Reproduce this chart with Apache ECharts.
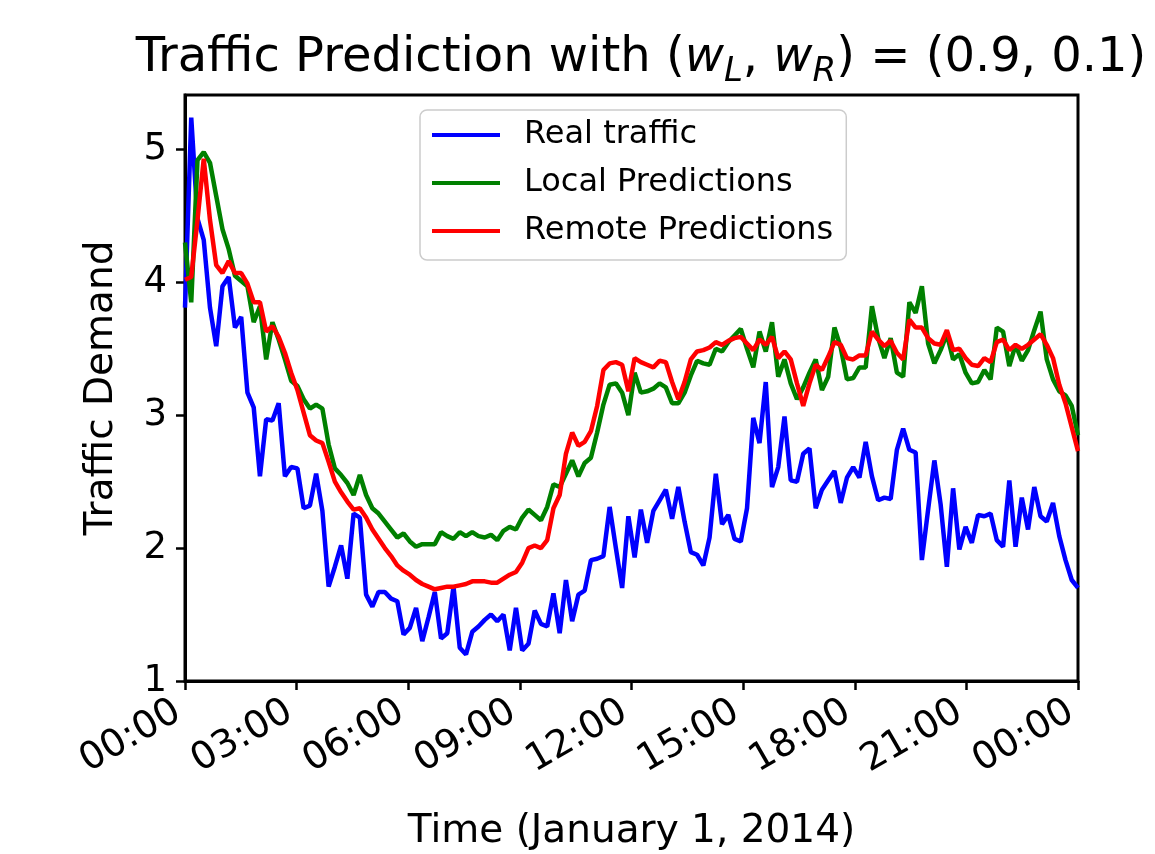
<!DOCTYPE html>
<html>
<head>
<meta charset="utf-8">
<script src="https://cdn.jsdelivr.net/npm/echarts@6/dist/echarts.min.js"></script>
<style>
  html, body { margin: 0; padding: 0; background: #ffffff; }
  #chart { width: 1155px; height: 854px; }
</style>
</head>
<body>
<div id="chart"></div>
<script>
// traffic samples, one day
const realTraffic = [
  3.81, 5.24, 4.48, 4.32, 3.81, 3.52, 3.97, 4.04, 3.66, 3.74,
  3.17, 3.06, 2.54, 2.97, 2.96, 3.09, 2.54, 2.61, 2.60, 2.30,
  2.32, 2.56, 2.28, 1.71, 1.86, 2.02, 1.77, 2.26, 2.23, 1.65,
  1.56, 1.67, 1.67, 1.62, 1.60, 1.35, 1.40, 1.55, 1.30, 1.48,
  1.67, 1.32, 1.36, 1.71, 1.25, 1.20, 1.37, 1.41, 1.46, 1.50,
  1.45, 1.50, 1.23, 1.55, 1.23, 1.28, 1.53, 1.43, 1.41, 1.66,
  1.36, 1.76, 1.45, 1.65, 1.68, 1.91, 1.92, 1.94, 2.31, 2.00,
  1.70, 2.24, 1.93, 2.29, 2.04, 2.28, 2.36, 2.44, 2.22, 2.46,
  2.20, 1.97, 1.95, 1.87, 2.08, 2.56, 2.18, 2.25, 2.07, 2.05,
  2.30, 2.98, 2.79, 3.25, 2.46, 2.61, 2.99, 2.51, 2.50, 2.71,
  2.75, 2.30, 2.44, 2.51, 2.58, 2.34, 2.53, 2.61, 2.53, 2.80,
  2.54, 2.36, 2.38, 2.37, 2.74, 2.90, 2.74, 2.72, 1.91, 2.29,
  2.66, 2.33, 1.86, 2.45, 1.99, 2.16, 2.04, 2.25, 2.24, 2.26,
  2.06, 2.01, 2.51, 2.01, 2.38, 2.14, 2.46, 2.24, 2.20, 2.34,
  2.09, 1.91, 1.76, 1.70
];
const localPred = [
  4.30, 3.85, 4.92, 4.98, 4.90, 4.65, 4.40, 4.25, 4.05, 4.01,
  3.97, 3.70, 3.82, 3.42, 3.70, 3.57, 3.42, 3.26, 3.22, 3.12,
  3.05, 3.08, 3.05, 2.78, 2.60, 2.55, 2.49, 2.40, 2.55, 2.40,
  2.30, 2.26, 2.20, 2.14, 2.08, 2.11, 2.05, 2.01, 2.03, 2.03,
  2.03, 2.12, 2.09, 2.07, 2.12, 2.09, 2.12, 2.09, 2.08, 2.10,
  2.06, 2.13, 2.16, 2.14, 2.23, 2.29, 2.25, 2.21, 2.31, 2.48,
  2.46, 2.56, 2.66, 2.54, 2.64, 2.68, 2.87, 3.08, 3.23, 3.24,
  3.17, 3.00, 3.32, 3.17, 3.18, 3.20, 3.24, 3.21, 3.09, 3.09,
  3.17, 3.30, 3.41, 3.39, 3.38, 3.50, 3.48, 3.55, 3.60, 3.65,
  3.50, 3.36, 3.63, 3.48, 3.70, 3.29, 3.42, 3.24, 3.12, 3.21,
  3.32, 3.42, 3.19, 3.29, 3.66, 3.51, 3.27, 3.28, 3.36, 3.36,
  3.82, 3.58, 3.43, 3.58, 3.32, 3.29, 3.85, 3.77, 3.97, 3.54,
  3.39, 3.49, 3.61, 3.42, 3.46, 3.32, 3.24, 3.25, 3.34, 3.27,
  3.66, 3.63, 3.37, 3.53, 3.41, 3.49, 3.64, 3.78, 3.42, 3.27,
  3.18, 3.15, 3.07, 2.85
];
const remotePred = [
  4.02, 4.04, 4.47, 4.93, 4.47, 4.13, 4.07, 4.16, 4.07, 4.07,
  3.99, 3.85, 3.85, 3.63, 3.67, 3.59, 3.47, 3.32, 3.19, 3.02,
  2.85, 2.81, 2.79, 2.65, 2.50, 2.42, 2.35, 2.29, 2.30, 2.23,
  2.14, 2.07, 2.00, 1.94, 1.87, 1.83, 1.80, 1.76, 1.73, 1.71,
  1.69, 1.70, 1.71, 1.71, 1.72, 1.73, 1.75, 1.75, 1.75, 1.74,
  1.74, 1.77, 1.80, 1.82, 1.89, 2.00, 2.02, 2.00, 2.06, 2.30,
  2.40, 2.71, 2.87, 2.77, 2.80, 2.88, 3.07, 3.34, 3.39, 3.40,
  3.38, 3.18, 3.43, 3.40, 3.38, 3.36, 3.41, 3.40, 3.25, 3.12,
  3.25, 3.42, 3.48, 3.49, 3.51, 3.55, 3.53, 3.56, 3.58, 3.59,
  3.54, 3.49, 3.57, 3.53, 3.59, 3.43, 3.48, 3.42, 3.24, 3.07,
  3.24, 3.38, 3.34, 3.44, 3.55, 3.53, 3.43, 3.42, 3.45, 3.45,
  3.63, 3.57, 3.52, 3.56, 3.47, 3.42, 3.72, 3.66, 3.66, 3.58,
  3.54, 3.53, 3.64, 3.49, 3.50, 3.43, 3.38, 3.37, 3.43, 3.40,
  3.55, 3.57, 3.49, 3.53, 3.50, 3.53, 3.57, 3.61, 3.53, 3.43,
  3.23, 3.09, 2.91, 2.73
];

const seriesNames = ['Real traffic', 'Local Predictions', 'Remote Predictions'];
const seriesColors = ['#0000ff', '#008000', '#ff0000'];
const xTickHours = [0, 3, 6, 9, 12, 15, 18, 21, 24];
const yTicks = [1, 2, 3, 4, 5];

// samples are spread evenly over the day (hours on the x axis)
const stepH = 24 / (realTraffic.length - 1);
const toPoints = arr => arr.map((v, i) => [i * stepH, v]);

const font = 'DejaVu Sans';
const chart = echarts.init(document.getElementById('chart'));

const option = {
  animation: false,
  backgroundColor: '#ffffff',
  title: {
    text: 'Traffic Prediction with ({it|w}{sub|L}, {it|w}{sub|R}) = (0.9, 0.1)',
    left: 636,
    textAlign: 'center',
    top: 24,
    textStyle: {
      fontFamily: font,
      fontSize: 48,
      fontWeight: 'normal',
      color: '#000',
      lineHeight: 60,
      rich: {
        it: { fontFamily: font, fontSize: 48, fontStyle: 'italic', color: '#000', lineHeight: 60 },
        sub: { fontFamily: font, fontSize: 34, fontStyle: 'italic', color: '#000', lineHeight: 34, verticalAlign: 'bottom' }
      }
    }
  },
  legend: {
    orient: 'vertical',
    left: 420,
    top: 110,
    padding: [8, 13, 12, 12],
    itemGap: 14,
    itemWidth: 68,
    itemHeight: 4,
    icon: 'rect',
    backgroundColor: 'rgba(255,255,255,0.8)',
    borderColor: '#cccccc',
    borderWidth: 1.5,
    borderRadius: 7,
    textStyle: { fontFamily: font, fontSize: 32, color: '#000', lineHeight: 34, padding: [0, 0, 0, 19] },
    data: seriesNames
  },
  grid: {
    left: 185, right: 77, top: 95, bottom: 173,
    containLabel: false,
    outerBoundsMode: 'none',
    show: true, borderColor: '#000', borderWidth: 3, backgroundColor: 'transparent'
  },
  xAxis: {
    type: 'value',
    min: 0, max: 24, interval: 3,
    name: 'Time (January 1, 2014)',
    nameLocation: 'middle',
    nameGap: 131,
    nameTextStyle: { fontFamily: font, fontSize: 39, color: '#000' },
    axisLine: { show: true, onZero: false, lineStyle: { color: '#000', width: 3 } },
    axisTick: { show: true, inside: false, length: 9, lineStyle: { color: '#000', width: 2.5 }, customValues: xTickHours },
    axisLabel: {
      customValues: xTickHours,
      rotate: 30,
      margin: 24,
      padding: [0, 8, 0, 0],
      fontFamily: font, fontSize: 38, color: '#000',
      formatter: v => String(v % 24).padStart(2, '0') + ':00'
    },
    splitLine: { show: false }
  },
  yAxis: {
    type: 'value',
    min: 1, max: 5.41, interval: 1,
    name: 'Traffic Demand',
    nameLocation: 'middle',
    nameGap: 64,
    nameTextStyle: { fontFamily: font, fontSize: 39, color: '#000' },
    axisLine: { show: true, lineStyle: { color: '#000', width: 3 } },
    axisTick: { show: true, length: 9, lineStyle: { color: '#000', width: 2.5 }, customValues: yTicks },
    axisLabel: { customValues: yTicks, margin: 18, fontFamily: font, fontSize: 37, color: '#000' },
    splitLine: { show: false }
  },
  series: [realTraffic, localPred, remotePred].map((arr, k) => ({
    name: seriesNames[k],
    type: 'line',
    data: toPoints(arr),
    showSymbol: false,
    color: seriesColors[k],
    lineStyle: { color: seriesColors[k], width: 4.5 },
    z: 2 + k
  }))
};

chart.setOption(option);
</script>
</body>
</html>
